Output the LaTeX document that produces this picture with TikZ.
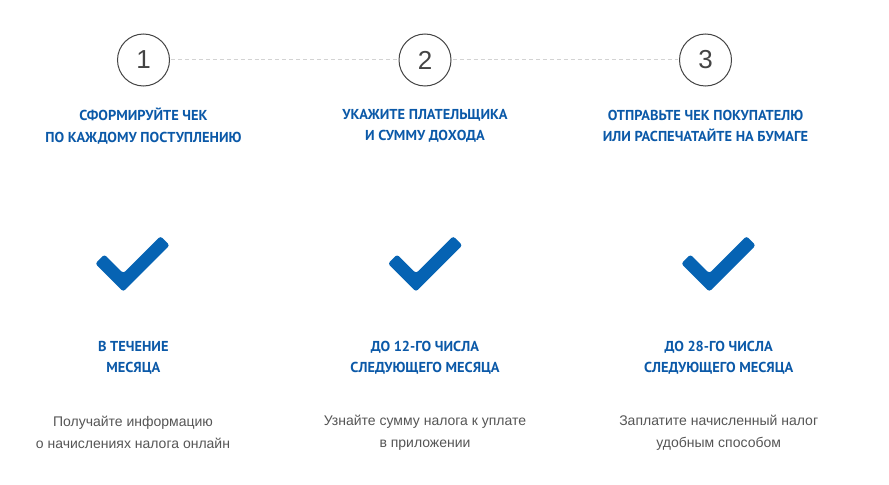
\documentclass[tikz,border=0pt]{standalone}
\usepackage{fontspec}
\setmainfont{Liberation Sans}
\newfontfamily\headfont{PT Sans}

\definecolor{headblue}{HTML}{0B59A8}
\definecolor{tickblue}{HTML}{0663B3}
\definecolor{textgray}{HTML}{555555}
\definecolor{ringgray}{HTML}{444444}
\definecolor{dashgray}{HTML}{D3D3D3}

\tikzset{
  stepcircle/.style={circle, draw=ringgray, line width=0.75pt, minimum size=39pt,
    inner sep=0pt, text=ringgray, font=\fontsize{19.5}{19.5}\selectfont},
  heading/.style={text=headblue, align=center,
    font=\headfont\bfseries\fontsize{10.8}{16}\selectfont},
  note/.style={text=textgray, align=center, font=\fontsize{10.5}{16.5}\selectfont},
  steplink/.style={dashgray, line width=0.75pt, dash pattern=on 3pt off 2.2pt,
    shorten <=1pt, shorten >=1pt},
  tickmark/.pic={
    \begin{scope}[x={(0.5303pt,-0.5303pt)}, y={(0.5303pt,0.5303pt)}]
      \fill[tickblue, rounded corners=2pt] (-33.2,-6.5) -- (6.5,-6.5) -- (6.5,59.1)
        -- (-6.5,59.1) -- (-6.5,6.5) -- (-33.2,6.5) -- cycle;
    \end{scope}
  }
}

\begin{document}
\begin{tikzpicture}[x=0.75pt, y=-0.75pt]
\useasboundingbox (0,0) rectangle (889,485);

% steps
\node[stepcircle] (c1) at (143.5,60) {1};
\node[stepcircle] (c2) at (425,60) {2};
\node[stepcircle] (c3) at (705.5,60) {3};
\draw[steplink] (c1) -- (c2);
\draw[steplink] (c2) -- (c3);

\node[heading] (h1) at (143.5,126) {СФОРМИРУЙТЕ ЧЕК\\ПО КАЖДОМУ ПОСТУПЛЕНИЮ};
\node[heading] (h2) at (425,126) {УКАЖИТЕ ПЛАТЕЛЬЩИКА\\И СУММУ ДОХОДА};
\node[heading] (h3) at (705.5,126) {ОТПРАВЬТЕ ЧЕК ПОКУПАТЕЛЮ\\ИЛИ РАСПЕЧАТАЙТЕ НА БУМАГЕ};

% ticks
\pic at (123.3,282.5) {tickmark};
\pic at (416,282.5) {tickmark};
\pic at (709.3,282.5) {tickmark};

\node[heading] (t1) at (133.3,358) {В ТЕЧЕНИЕ\\МЕСЯЦА};
\node[heading] (t2) at (425,358) {ДО 12-ГО ЧИСЛА\\СЛЕДУЮЩЕГО МЕСЯЦА};
\node[heading] (t3) at (718.7,358) {ДО 28-ГО ЧИСЛА\\СЛЕДУЮЩЕГО МЕСЯЦА};

\node[note] (n1) at (133,432.5) {Получайте информацию\\о начислениях налога онлайн};
\node[note] (n2) at (425,432.5) {Узнайте сумму налога к уплате\\в приложении};
\node[note] (n3) at (718.7,432.5) {Заплатите начисленный налог\\удобным способом};
\end{tikzpicture}
\end{document}
